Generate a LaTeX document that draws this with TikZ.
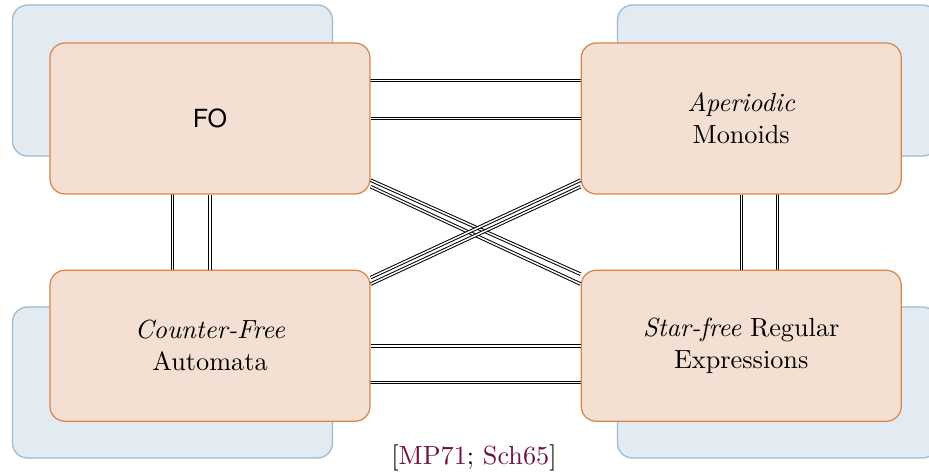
\documentclass[tikz,border=0pt]{standalone}
\usepackage{fontspec}
\newfontfamily\fosans{TeX Gyre Heros}
\usetikzlibrary{positioning}
\definecolor{boxfill}{HTML}{F4E0D2}
\definecolor{boxline}{HTML}{D8864B}
\definecolor{backfill}{HTML}{E2EAF2}
\definecolor{backline}{HTML}{9BBBD4}
\definecolor{citecol}{HTML}{6E1048}
\begin{document}
\begin{tikzpicture}[x=0.4pt, y=-0.4pt, node distance={30pt and 84pt},
    font=\fontsize{10.5pt}{12.7pt}\selectfont,
    main/.style = {draw=boxline, fill=boxfill, line width=0.5pt, rounded corners=6pt, minimum width=128pt, minimum height=60.4pt, align=center, inner sep=0pt},
    back/.style = {draw=backline, fill=backfill, line width=0.5pt, rounded corners=6pt, minimum width=128pt, minimum height=60.4pt},
    link/.style = {double, double distance=0.6pt, line width=0.4pt}]
    \useasboundingbox (0,0) rectangle (929,473);
    \clip (0,0) rectangle (929,473);

    \node[back] (b1) at (172.5,80.5) {};
    \node[back] (b2) at (777.5,80.5) {};
    \node[back] (b3) at (172.5,382.5) {};
    \node[back] (b4) at (777.5,382.5) {};

    \draw[link] (b1) -- (b2);
    \draw[link] (b1) -- (b3);
    \draw[link] (b2) -- (b4);
    \draw[link] (b3) -- (b4);

    \node[main] (1) at (210,118.5) {\fontsize{10pt}{12pt}\fosans FO};
    \node[main] (2) [right=of 1] {\textit{Aperiodic}\\Monoids};
    \node[main] (3) [below=of 1] {\textit{Counter-Free}\\Automata};
    \node[main] (4) [below=of 2] {\textit{Star-free} Regular\\Expressions};

    \draw[link] (1) -- (2);
    \draw[link] (1) -- (3);
    \draw[link] (2) -- (4);
    \draw[link] (3) -- (4);

    \draw[link] (1.-21) -- (4.156.5);
    \draw[link] (1.-23) -- (4.159);
    \draw[link] (3.23.5) -- (2.-159);
    \draw[link] (3.21) -- (2.-157);

    \node (cite) at (474,458) {[\textcolor{citecol}{MP71}; \textcolor{citecol}{Sch65}]};
\end{tikzpicture}
\end{document}
